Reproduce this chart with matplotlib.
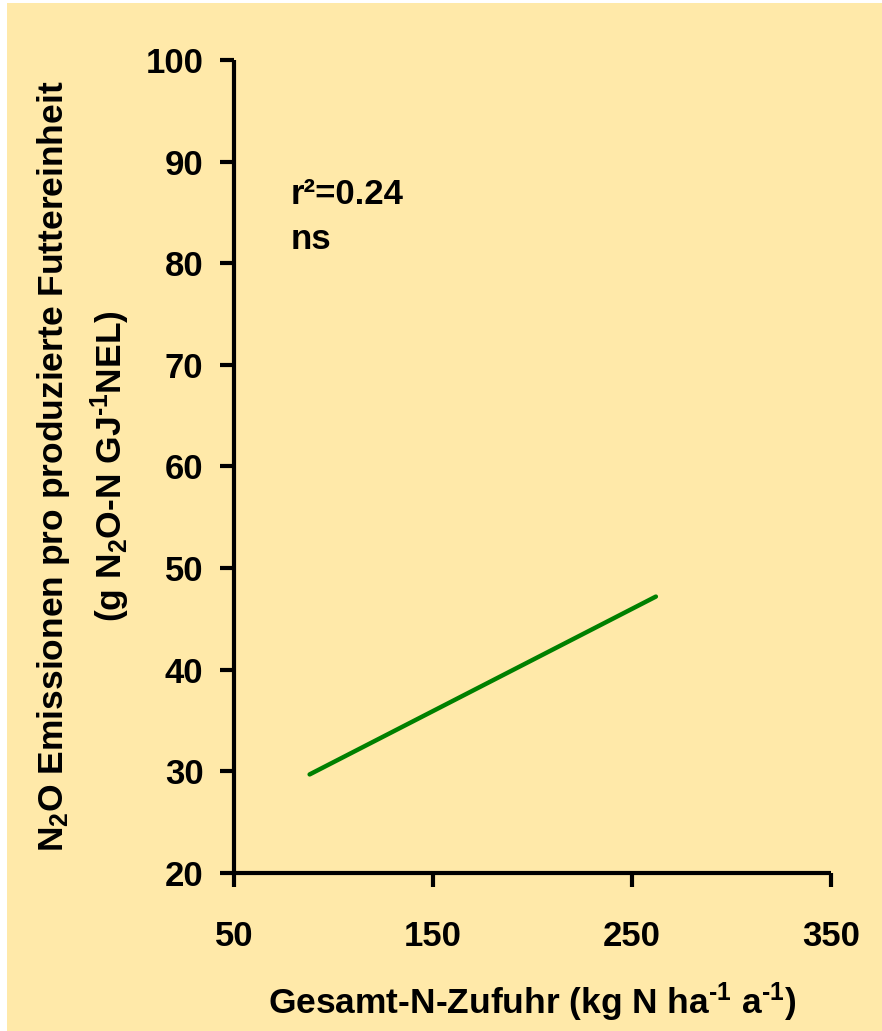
import numpy as np
import matplotlib.pyplot as plt
import matplotlib as mpl
from matplotlib.patches import Rectangle

mpl.rcParams['font.family'] = 'Liberation Sans'
mpl.rcParams['font.weight'] = 'bold'
mpl.rcParams['axes.labelweight'] = 'bold'
mpl.rcParams['mathtext.fontset'] = 'custom'
mpl.rcParams['mathtext.rm'] = 'Liberation Sans:bold'
mpl.rcParams['mathtext.bf'] = 'Liberation Sans:bold'
mpl.rcParams['mathtext.it'] = 'Liberation Sans:bold'
mpl.rcParams['mathtext.default'] = 'rm'

# regression line end points
n_input = [88, 262]
n2o_per_unit = [29.7, 47.2]

x_ticks = [50, 150, 250, 350]
y_ticks = [20, 30, 40, 50, 60, 70, 80, 90, 100]

bg = '#FFE9A9'
green = '#008000'

fig = plt.figure(figsize=(8.82, 10.31), dpi=100)
fig.patch.set_facecolor('white')
fig.add_artist(Rectangle((7/882, 0), 1 - 7/882, 1 - 3/1031,
                         transform=fig.transFigure, facecolor=bg,
                         edgecolor='none', zorder=-10))

ax = fig.add_axes([234/882, 1 - 873/1031, 597/882, 813/1031])
ax.set_facecolor('none')

ax.plot(n_input, n2o_per_unit, color=green, linewidth=3.2, solid_capstyle='round')

ax.set_xlim(50, 350)
ax.set_ylim(20, 100)
ax.set_xticks(x_ticks)
ax.set_yticks(y_ticks)

for s in ['top', 'right']:
    ax.spines[s].set_visible(False)
for s in ['left', 'bottom']:
    ax.spines[s].set_linewidth(3.0)
    ax.spines[s].set_capstyle('butt')

ax.tick_params(axis='both', direction='out', length=10, width=3.0, labelsize=25)
ax.tick_params(axis='y', pad=12)
ax.tick_params(axis='x', pad=24)

ax.set_xlabel(r'Gesamt-N-Zufuhr (kg N ha$^{\text{-}1}$ a$^{\text{-}1}$)',
              fontsize=25.5, labelpad=20)
ax.set_ylabel('N$_2$O Emissionen pro produzierte Futtereinheit\n'
              r'(g N$_2$O-N GJ$^{\text{-}1}$NEL)', fontsize=25.5, labelpad=10,
              linespacing=1.5)

ax.text(78.5, 86.8, 'r²=0.24', fontsize=25, va='center', ha='left')
ax.text(78.5, 82.3, 'ns', fontsize=25, va='center', ha='left')

fig.savefig('out.png', dpi=100, facecolor=fig.get_facecolor())
